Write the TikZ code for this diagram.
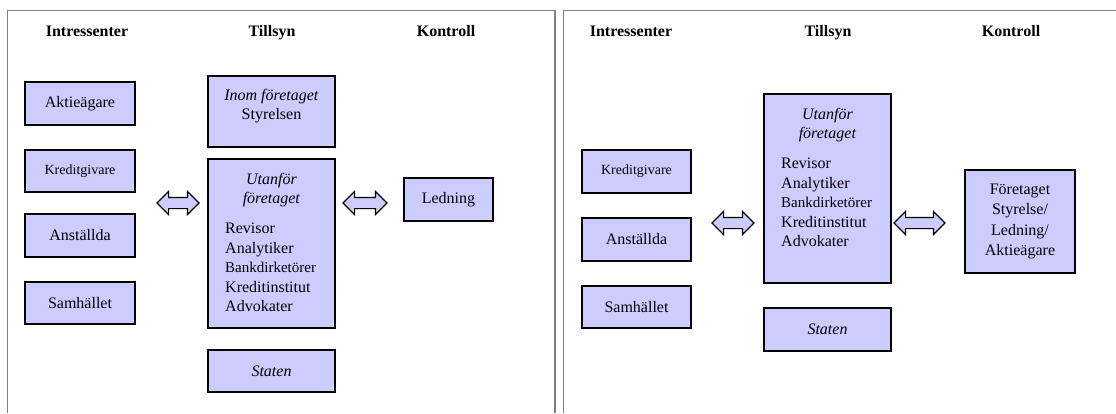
\documentclass[tikz,border=0pt]{standalone}
\usepackage{fontspec}
\setmainfont{Liberation Serif}
\usetikzlibrary{shapes.arrows}
\definecolor{lavender}{RGB}{204,204,255}
\tikzset{
  box/.style={draw, line width=1.3pt, fill=lavender, inner sep=0pt, align=center,
    font=\fontsize{16}{19.5}\selectfont},
  txt/.style={inner sep=0pt, font=\fontsize{16}{19.5}\selectfont},
  heading/.style={inner sep=0pt, anchor=base, font=\fontsize{16}{19}\selectfont\bfseries},
  dblarrow/.style={draw, line width=1.2pt, fill=lavender, shape=double arrow,
    double arrow head extend=6pt, inner xsep=0pt, inner ysep=5pt},
  panel/.style={draw=gray, line width=1.2pt}
}
\begin{document}
\begin{tikzpicture}[x=1pt, y=-1pt]
      \useasboundingbox (0,0) rectangle (1116,413);
      \draw[panel] (7.5,413) -- (7.5,10.5) -- (555,10.5) -- (555,413);
      \draw[panel] (563.5,413) -- (563.5,10.5) -- (1116,10.5);

      % vanster panel
      \node[heading] (h1)  at  (87, 36){Intressenter};
      \node[heading] (h2)  at  (272, 36){Tillsyn};
      \node[heading] (h3)  at  (446, 36){Kontroll};

      \node[box, minimum width=110, minimum height=43] (a1)  at  (80, 103.5){Aktieägare};
      \node[box, minimum width=110, minimum height=42, font=\fontsize{14}{17}\selectfont] (a2)  at  (80, 171){Kreditgivare};
      \node[box, minimum width=110, minimum height=43] (a3)  at  (80, 235.5){Anställda};
      \node[box, minimum width=110, minimum height=42] (a4)  at  (80, 303){Samhället};

      \node[box, minimum width=127, minimum height=71] (b1)  at  (271.5, 111.5){};
      \node[txt, align=center] (b1t)  at  (271.5, 106){\textit{Inom företaget}\\Styrelsen};
      \node[box, minimum width=127, minimum height=169] (b2)  at  (271.5, 243.5){};
      \node[txt, align=center] (b2t)  at  (271.5, 190){\textit{Utanför}\\\textit{företaget}};
      \node[txt, align=left, anchor=north west] (b2l)  at  (225, 223){Revisor\\Analytiker\\{\fontsize{15}{19.5}\selectfont Bankdirketörer}\\Kreditinstitut\\Advokater};
      \node[box, minimum width=127, minimum height=42] (b3)  at  (271.5, 371){\textit{Staten}};

      \node[box, minimum width=89, minimum height=43] (c1)  at  (448.5, 199.5){Ledning};

      \node[dblarrow, minimum height=42] (p1)  at  (178, 203){};
      \node[dblarrow, minimum height=44] (p2)  at  (365, 203){};

      % hoger panel
      \node[heading] (k1)  at  (631, 36){Intressenter};
      \node[heading] (k2)  at  (828, 36){Tillsyn};
      \node[heading] (k3)  at  (1011, 36){Kontroll};

      \node[box, minimum width=109, minimum height=43, font=\fontsize{14}{17}\selectfont] (d1)  at  (636.5, 171.5){Kreditgivare};
      \node[box, minimum width=109, minimum height=43] (d2)  at  (636.5, 239.5){Anställda};
      \node[box, minimum width=109, minimum height=42] (d3)  at  (636.5, 307){Samhället};

      \node[box, minimum width=127, minimum height=189] (e1)  at  (827.5, 188.5){};
      \node[txt, align=center] (e1t)  at  (827.5, 125){\textit{Utanför}\\\textit{företaget}};
      \node[txt, align=left, anchor=north west] (e1l)  at  (781, 158){Revisor\\Analytiker\\{\fontsize{15}{19.5}\selectfont Bankdirketörer}\\Kreditinstitut\\Advokater};
      \node[box, minimum width=127, minimum height=43] (e2)  at  (827.5, 329.5){\textit{Staten}};

      \node[box, minimum width=110, minimum height=103, font=\fontsize{16}{20.5}\selectfont] (f1)  at  (1020, 221.5){Företaget\\Styrelse/\\Ledning/\\Aktieägare};

      \node[dblarrow, minimum height=42] (q1)  at  (733, 223){};
      \node[dblarrow, minimum height=51] (q2)  at  (919.5, 223){};
      %\draw[gray] (a2) -- (b2);
    \end{tikzpicture}
\end{document}
